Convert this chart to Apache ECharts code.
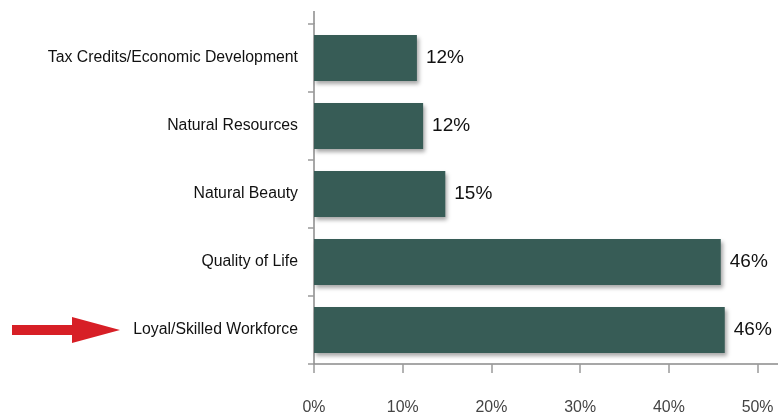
<!DOCTYPE html>
<html>
<head>
<meta charset="utf-8">
<script src="https://cdn.jsdelivr.net/npm/echarts@6/dist/echarts.min.js"></script>
<style>
  html, body { margin: 0; padding: 0; background: #fff; }
  #chart { width: 778px; height: 417px; }
</style>
</head>
<body>
<div id="chart"></div>
<script>
const categories = [
  'Tax Credits/Economic Development',
  'Natural Resources',
  'Natural Beauty',
  'Quality of Life',
  'Loyal/Skilled Workforce'
];
const values = [11.6, 12.3, 14.8, 45.85, 46.3];
const tickValues = [0, 10, 20, 30, 40, 50];
const highlighted = 'Loyal/Skilled Workforce';

// pick the narrowest installed face and size text close to the original's widths
const ctx = document.createElement('canvas').getContext('2d');
function measure(text, font) {
  ctx.font = font;
  return ctx.measureText(text).width;
}
const candidates = ['Liberation Sans Narrow', 'DejaVu Sans Condensed', 'Liberation Sans'];
let family = 'sans-serif';
let best = Infinity;
candidates.forEach(f => {
  const w = measure(categories[0], '100px "' + f + '", monospace');
  const base = measure(categories[0], '100px monospace');
  if (w !== base && w < best) { best = w; family = '"' + f + '"'; }
});
function fitSize(text, width) {
  return Math.round(100 * width / measure(text, '100px ' + family) * 10) / 10;
}
const catFont = fitSize(categories[0], 250);
const valFont = fitSize('12%', 38);
const tickFont = fitSize('0%', 23);

const chart = echarts.init(document.getElementById('chart'));

let option = {
  animation: false,
  grid: {
    left: 314,
    right: 0,
    top: 24,
    bottom: 53,
    outerBoundsMode: 'none'
  },
  xAxis: {
    type: 'value',
    min: 0,
    max: 52.3,
    interval: 10,
    splitLine: { show: false },
    axisLine: { show: true, lineStyle: { color: '#8a8a8a', width: 1.5 } },
    axisTick: {
      show: true,
      length: 9,
      customValues: tickValues,
      lineStyle: { color: '#9a9a9a', width: 1.5 }
    },
    axisLabel: {
      customValues: tickValues,
      margin: Math.round(44 - tickFont / 2),
      color: '#444',
      fontFamily: family,
      fontSize: tickFont,
      formatter: v => v + '%'
    }
  },
  yAxis: {
    type: 'category',
    inverse: true,
    data: categories,
    axisLine: { show: true, lineStyle: { color: '#8a8a8a', width: 1.5 } },
    axisTick: { show: true, length: 6, lineStyle: { color: '#9a9a9a', width: 1.5 } },
    axisLabel: {
      margin: 16,
      color: '#111',
      fontFamily: family,
      fontSize: catFont
    }
  },
  series: [{
    type: 'bar',
    data: values,
    barCategoryGap: '32%',
    itemStyle: {
      color: '#375c56',
      shadowColor: 'rgba(0,0,0,0.35)',
      shadowBlur: 4,
      shadowOffsetX: 2,
      shadowOffsetY: 3
    },
    label: {
      show: true,
      position: 'right',
      distance: 9,
      color: '#111',
      fontFamily: family,
      fontSize: valFont,
      formatter: p => Math.round(p.value) + '%'
    }
  }]
};
chart.setOption(option);

// red arrow pointing at the highlighted category, plus the short axis stub above the grid
const ay = chart.convertToPixel({ yAxisIndex: 0 }, highlighted);
const ax0 = chart.convertToPixel({ xAxisIndex: 0 }, 0);
chart.setOption({
  graphic: [
    {
      type: 'polygon',
      shape: {
        points: [
          [12, ay - 5], [72, ay - 5], [72, ay - 13], [120, ay],
          [72, ay + 13], [72, ay + 5], [12, ay + 5]
        ]
      },
      style: { fill: '#d71f26' }
    },
    {
      type: 'line',
      shape: { x1: ax0, y1: 11, x2: ax0, y2: 24 },
      style: { stroke: '#8a8a8a', lineWidth: 1.5 }
    }
  ]
});
</script>
</body>
</html>
